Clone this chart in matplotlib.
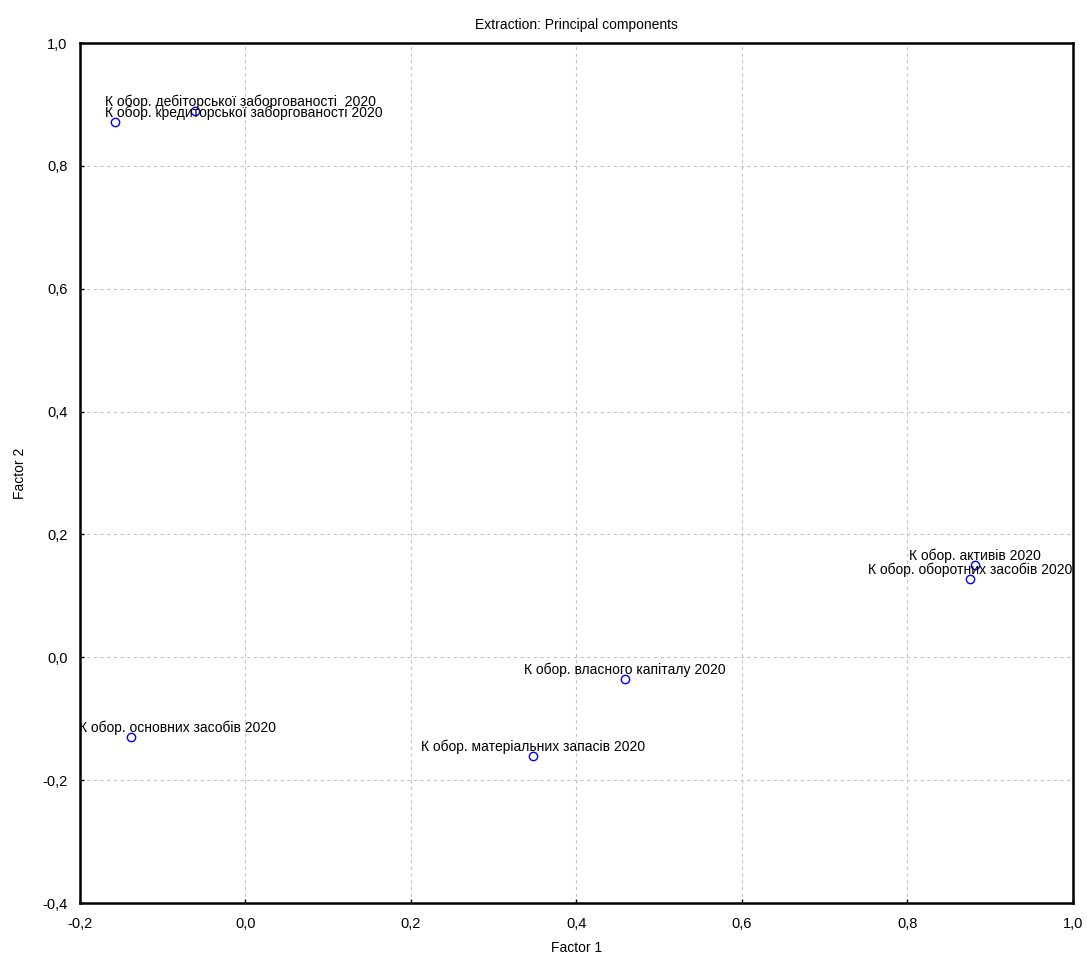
import matplotlib
matplotlib.use("Agg")
import matplotlib.pyplot as plt
from matplotlib.ticker import FuncFormatter, MultipleLocator

plt.rcParams['font.family'] = ['Liberation Sans', 'DejaVu Sans']

# factor loadings
labels = [
    "К обор. дебіторської заборгованості  2020",
    "К обор. кредиторської заборгованості 2020",
    "К обор. активів 2020",
    "К обор. оборотних засобів 2020",
    "К обор. основних засобів 2020",
    "К обор. власного капіталу 2020",
    "К обор. матеріальних запасів 2020",
]
factor1 = [-0.061, -0.158, 0.882, 0.876, -0.138, 0.459, 0.347]
factor2 = [0.889, 0.872, 0.150, 0.127, -0.130, -0.035, -0.161]

# label placement (pixel offset of the text anchor, alignment)
label_dx = [-90, -10, 0, 0, -52, 0, 0]
label_ha = ['left', 'left', 'center', 'center', 'left', 'center', 'center']

fig = plt.figure(figsize=(10.87, 9.58), dpi=100)
ax = fig.add_axes([0.0736, 0.0574, 0.9135, 0.8977])

ax.plot(factor1, factor2, 'o', ms=6, mfc='none', mec='blue', mew=1)
for lab, x, y, dx, ha in zip(labels, factor1, factor2, label_dx, label_ha):
    ax.annotate(lab, (x, y), xytext=(dx, 5), textcoords='offset pixels',
                ha=ha, va='baseline', fontsize=10, color='black')

ax.set_xlim(-0.2, 1.0)
ax.set_ylim(-0.4, 1.0)
ax.xaxis.set_major_locator(MultipleLocator(0.2))
ax.yaxis.set_major_locator(MultipleLocator(0.2))
fmt = FuncFormatter(lambda v, p: f"{v:.1f}".replace('.', ',').replace('-0,0', '0,0'))
ax.xaxis.set_major_formatter(fmt)
ax.yaxis.set_major_formatter(fmt)
ax.tick_params(direction='in', length=3, width=1, labelsize=10.5)
ax.tick_params(axis='x', pad=10)
ax.tick_params(axis='y', pad=9)
ax.grid(True, color='#c4c4c4', linestyle=(0, (3, 3)), linewidth=0.8)
for s in ax.spines.values():
    s.set_linewidth(1.8)

ax.set_title("Extraction: Principal components", fontsize=10, pad=10)
ax.set_xlabel("Factor 1", fontsize=10, labelpad=7)
ax.set_ylabel("Factor 2", fontsize=10, labelpad=11)

fig.savefig("out.png", dpi=100)
